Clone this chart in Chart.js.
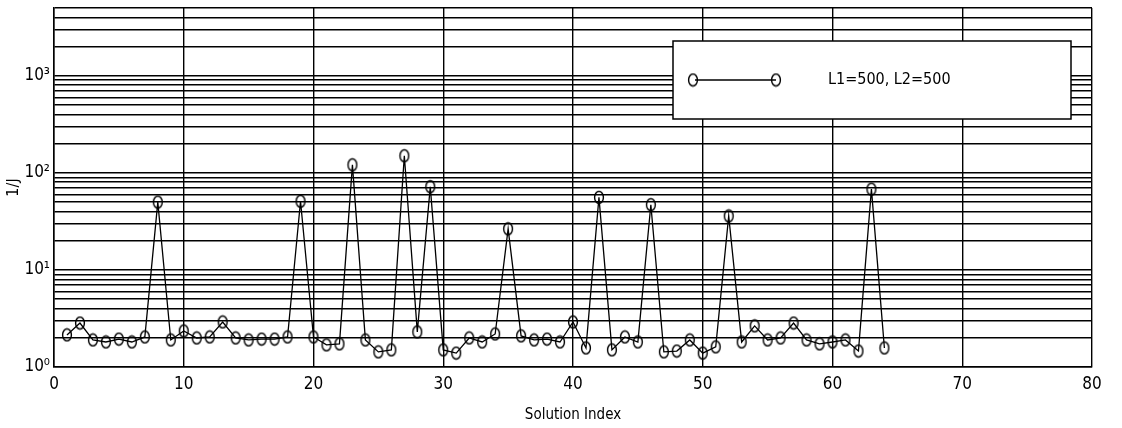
<!DOCTYPE html>
<html>
<head>
<meta charset="utf-8">
<script src="https://cdn.jsdelivr.net/npm/chart.js@4"></script>
<style>
  html, body { margin: 0; padding: 0; background: #fff; }
  #wrap { width: 1122px; height: 428px; }
</style>
</head>
<body>
<div id="wrap"><canvas id="c" width="1122" height="428"></canvas></div>
<script>
// values (1/J per solution)
const inverseJ = [
    2.14, 2.84, 1.9, 1.81, 1.94, 1.81, 2.04, 50, 1.9, 2.35,
    1.99, 2.04, 2.91, 1.99, 1.9, 1.94, 1.94, 2.04, 51, 2.04,
    1.69, 1.73, 121, 1.9, 1.43, 1.5, 150, 2.3, 72, 1.5,
    1.39, 1.99, 1.81, 2.19, 26.5, 2.09, 1.9, 1.94, 1.81, 2.91,
    1.57, 56, 1.5, 2.04, 1.81, 47, 1.43, 1.46, 1.9, 1.39,
    1.61, 36, 1.81, 2.65, 1.9, 1.99, 2.84, 1.9, 1.73, 1.81,
    1.9, 1.46, 68, 1.57
];
const solutionIndex = inverseJ.map((v, i) => i + 1);
const xTicks = [0, 10, 20, 30, 40, 50, 60, 70, 80];
const yDecades = [1, 10, 100, 1000];
const yDecadeLabels = ["10\u2070", "10\u00b9", "10\u00b2", "10\u00b3"];
const seriesLabel = "L1=500, L2=500";

const FONT = "'DejaVu Sans Condensed', 'Liberation Sans Narrow', 'Liberation Sans', Arial, sans-serif";

// hollow ellipse marker, a bit taller than wide like the scan
function makeMarker() {
    const m = document.createElement("canvas");
    m.width = 12;
    m.height = 15;
    const g = m.getContext("2d");
    g.strokeStyle = "#000";
    g.lineWidth = 1.4;
    g.beginPath();
    g.ellipse(6, 7.5, 4.4, 6, 0, 0, Math.PI * 2);
    g.stroke();
    return m;
}
const marker = makeMarker();

// minor ticks 2..9 in every decade, up to the top of the axis
const yMax = 5000;
const yGridValues = [];
yDecades.forEach(d => {
    for (let k = 1; k <= 9; k++) {
        if (d * k <= yMax) yGridValues.push(d * k);
    }
});

const insideLegend = {
    id: "insideLegend",
    afterDraw(chart) {
        const ctx = chart.ctx;
        const x0 = 673, y0 = 41, w = 398, h = 78;
        ctx.save();
        ctx.fillStyle = "#fff";
        ctx.fillRect(x0, y0, w, h);
        ctx.strokeStyle = "#000";
        ctx.lineWidth = 1.5;
        ctx.strokeRect(x0, y0, w, h);
        const ly = y0 + 39;
        ctx.lineWidth = 1.3;
        ctx.beginPath();
        ctx.moveTo(x0 + 22, ly);
        ctx.lineTo(x0 + 103, ly);
        ctx.stroke();
        ctx.drawImage(marker, x0 + 20 - 6, ly - 7.5);
        ctx.drawImage(marker, x0 + 103 - 6, ly - 7.5);
        ctx.fillStyle = "#000";
        ctx.font = "16px " + FONT;
        ctx.textBaseline = "middle";
        ctx.fillText(chart.data.datasets[0].label, x0 + 155, ly);
        ctx.restore();
    }
};

new Chart(document.getElementById("c"), {
    type: "line",
    data: {
        datasets: [{
            label: seriesLabel,
            data: solutionIndex.map((x, i) => ({ x: x, y: inverseJ[i] })),
            borderColor: "#000",
            borderWidth: 1.3,
            pointStyle: marker,
            pointRadius: 6,
            tension: 0,
            fill: false
        }]
    },
    options: {
        responsive: false,
        animation: false,
        devicePixelRatio: 1,
        layout: { padding: { left: 0, right: 30, top: 8, bottom: 0 } },
        plugins: { legend: { display: false }, tooltip: { enabled: false } },
        scales: {
            x: {
                type: "linear",
                min: 0,
                max: 80,
                afterBuildTicks(scale) { scale.ticks = xTicks.map(v => ({ value: v })); },
                afterFit(scale) { scale.height = 61; },
                grid: { color: "#000", lineWidth: 1.4, drawTicks: false },
                border: { color: "#000", width: 1.5 },
                ticks: { color: "#000", padding: 7, font: { family: FONT, size: 17 } },
                title: {
                    display: true,
                    text: "Solution Index",
                    color: "#000",
                    padding: { top: 3 },
                    font: { family: FONT, size: 15 }
                }
            },
            y: {
                type: "logarithmic",
                min: 1,
                max: yMax,
                afterBuildTicks(scale) { scale.ticks = yGridValues.map(v => ({ value: v })); },
                afterFit(scale) {
                    scale.width = 54;
                    scale.paddingTop = 0;
                    scale.paddingBottom = 0;
                },
                grid: { color: "#000", lineWidth: 1.6, drawTicks: false },
                border: { color: "#000", width: 1.5 },
                ticks: {
                    autoSkip: false,
                    color: "#000",
                    padding: 4,
                    font: { family: FONT, size: 17 },
                    callback(v) {
                        const i = yDecades.indexOf(v);
                        return i >= 0 ? yDecadeLabels[i] : "";
                    }
                },
                title: {
                    display: true,
                    text: "1/J",
                    color: "#000",
                    padding: { bottom: 0 },
                    font: { family: FONT, size: 16 }
                }
            }
        }
    },
    plugins: [insideLegend]
});
</script>
</body>
</html>
